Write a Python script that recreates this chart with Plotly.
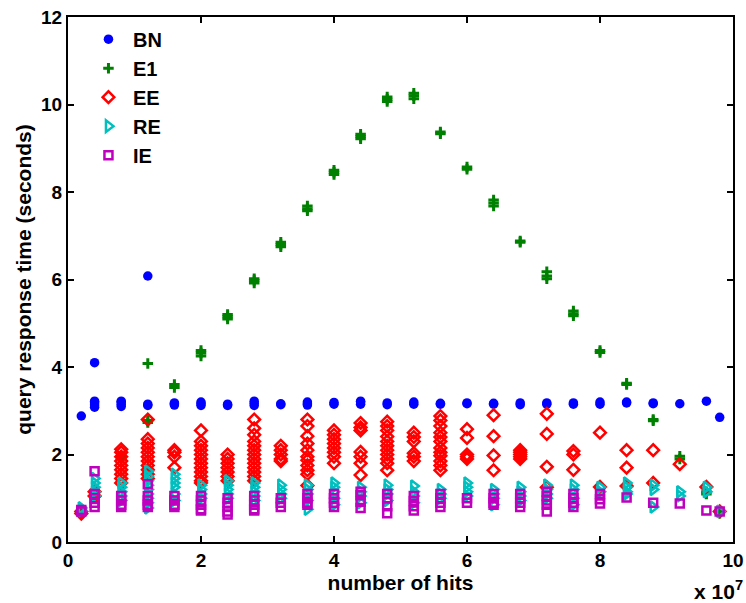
import plotly.graph_objects as go

# number of hits, in units of 1e7
hits = [0.2, 0.4, 0.8, 1.2, 1.6, 2.0, 2.4, 2.8, 3.2, 3.6, 4.0, 4.4, 4.8,
        5.2, 5.6, 6.0, 6.4, 6.8, 7.2, 7.6, 8.0, 8.4, 8.8, 9.2, 9.6, 9.8]

# query response times (seconds), one list per hits value
bn = [[2.88], [4.1, 3.08, 3.13, 3.18, 3.22], [3.1, 3.15, 3.2, 3.22],
      [6.08, 3.12, 3.15], [3.13, 3.16, 3.18], [3.12, 3.16, 3.2], [3.12, 3.15],
      [3.12, 3.17, 3.22], [3.14, 3.16], [3.13, 3.16, 3.2], [3.15, 3.19],
      [3.15, 3.2, 3.22], [3.14, 3.18], [3.15, 3.2], [3.15, 3.17], [3.16, 3.18],
      [3.15, 3.17], [3.14, 3.18], [3.15, 3.18], [3.15, 3.18], [3.15, 3.2],
      [3.18, 3.2], [3.16, 3.18], [3.16], [3.22], [2.85]]

e1 = [[0.65, 0.7], [1.05, 1.1], [1.9, 1.95], [4.08, 2.73, 2.78], [3.53, 3.6],
      [4.25, 4.32, 4.38], [5.1, 5.15, 5.2], [5.92, 5.98, 6.02], [6.75, 6.8, 6.85],
      [7.57, 7.62, 7.68], [8.4, 8.45, 8.5], [9.22, 9.27, 9.32],
      [10.07, 10.12, 10.17], [10.13, 10.2, 10.26], [9.33, 9.37], [8.52, 8.57],
      [7.68, 7.75, 7.82], [6.85, 6.88], [6.02, 6.08, 6.18], [5.17, 5.22, 5.28],
      [4.33, 4.38], [3.6, 3.63], [2.77, 2.8], [1.9, 1.96], [1.1, 1.15], [0.66, 0.7]]

ee = [[0.65, 0.7], [1.05, 1.15],
      [1.35, 1.45, 1.55, 1.65, 1.75, 1.85, 1.95, 2.05, 2.12],
      [2.8, 2.35, 2.25, 2.15, 2.05, 1.95, 1.85, 1.75, 1.65, 1.55, 1.45],
      [2.1, 2.05, 1.95, 1.7],
      [2.55, 2.3, 2.2, 2.1, 2.0, 1.9, 1.8, 1.7, 1.6, 1.5, 1.4, 1.35],
      [1.4, 1.5, 1.6, 1.7, 1.8, 1.9, 2.0],
      [2.8, 2.6, 2.45, 2.3, 2.2, 2.1, 2.0, 1.9, 1.8, 1.7, 1.6, 1.5, 1.4],
      [2.2, 2.1, 2.0, 1.9, 1.85],
      [2.8, 2.65, 2.42, 2.25, 2.1, 1.95, 1.87, 1.75, 1.64, 1.55, 1.29],
      [2.55, 2.45, 2.35, 2.25, 2.15, 2.05, 1.95, 1.8],
      [2.72, 2.62, 2.55, 2.06, 1.95, 1.8, 1.53],
      [2.75, 2.65, 2.55, 2.41, 2.3, 2.2, 2.1, 2.0, 1.9, 1.8, 1.64],
      [2.5, 2.4, 2.3, 2.03, 1.95, 1.85],
      [2.88, 2.78, 2.65, 2.5, 2.4, 2.3, 2.15, 2.05, 1.97, 1.85, 1.75, 1.64],
      [2.58, 2.38, 2.0, 1.95, 1.9],
      [2.9, 2.42, 1.98, 1.64],
      [2.1, 2.05, 2.0, 1.95, 1.9],
      [2.93, 2.47, 1.72, 1.25],
      [2.08, 2.0, 1.65],
      [2.5, 1.26],
      [2.1, 1.7, 1.28],
      [2.1, 1.35],
      [1.78],
      [1.26],
      [0.7]]

re_ = [[0.72, 0.78], [1.45, 1.35, 1.25, 1.15, 1.05], [1.35, 1.25, 1.15, 1.05, 0.95],
       [1.62, 1.5, 1.4, 1.3, 1.2, 1.1, 1.0, 0.9, 0.78],
       [1.55, 1.45, 1.35, 1.25, 1.1, 0.95], [1.3, 1.2, 1.1, 1.0],
       [1.4, 1.3, 1.2, 1.1, 1.0], [1.35, 1.25, 1.15, 1.05, 0.95],
       [1.3, 1.2, 1.1, 1.0], [1.3, 1.2, 1.1, 0.95, 0.75],
       [1.35, 1.25, 1.15, 1.0, 0.85], [1.25, 1.15, 1.05, 0.9],
       [1.3, 1.2, 1.1, 0.95], [1.28, 1.15, 1.05, 0.9], [1.2, 1.1, 1.0],
       [1.35, 1.25, 1.15, 1.05], [1.2, 1.1, 1.0, 0.85],
       [1.25, 1.15, 1.05, 0.95], [1.3, 1.2, 1.1, 1.0], [1.3, 1.2, 1.0, 0.85],
       [1.25, 1.15], [1.35, 1.25, 1.15, 1.1], [1.3, 1.2, 0.8], [1.15, 1.05],
       [1.25, 1.15], [0.7]]

ie = [[0.7, 0.73], [1.62, 1.1, 1.0, 0.9, 0.8], [1.05, 0.95, 0.85, 0.8],
      [1.32, 1.05, 0.95, 0.85, 0.8], [1.05, 0.95, 0.85, 0.8],
      [1.05, 0.95, 0.85, 0.75, 0.72], [1.0, 0.9, 0.8, 0.7, 0.63],
      [1.05, 0.95, 0.85, 0.75, 0.72], [1.0, 0.9, 0.8],
      [1.1, 1.0, 0.9, 0.85], [1.1, 1.0, 0.9, 0.8], [1.15, 1.07, 0.92, 0.78],
      [1.1, 1.0, 0.82, 0.66], [1.05, 0.94, 0.82, 0.72], [1.1, 1.0, 0.9, 0.8],
      [1.0, 0.9], [1.1, 1.0, 0.9, 0.85], [1.1, 1.0, 0.9, 0.8],
      [1.15, 1.05, 0.95, 0.85, 0.7], [1.1, 1.0, 0.9, 0.8], [1.1, 0.98, 0.88],
      [1.02], [0.9], [0.88], [0.72], [0.7]]

x_ticks = [0, 2, 4, 6, 8, 10]
y_ticks = [0, 2, 4, 6, 8, 10, 12]


def flatten(groups):
    xs, ys = [], []
    for h, vals in zip(hits, groups):
        for v in vals:
            xs.append(h)
            ys.append(v)
    return xs, ys


FONT = "Liberation Sans, Arial, Helvetica, sans-serif"

series = [
    ("BN", bn, dict(symbol="circle", size=9.5, color="#0000FF")),
    ("E1", e1, dict(symbol="cross-thin", size=7.5, color="#008000",
                    line=dict(color="#008000", width=3))),
    ("EE", ee, dict(symbol="diamond-open", size=9, color="#FF0000",
                    line=dict(color="#FF0000", width=2.5))),
    ("RE", re_, dict(symbol="triangle-right-open", size=10, color="#00BFBF",
                     line=dict(color="#00BFBF", width=2.5))),
    ("IE", ie, dict(symbol="square-open", size=8, color="#BF00BF",
                    line=dict(color="#BF00BF", width=2.5))),
]

fig = go.Figure()
for name, groups, marker in series:
    xs, ys = flatten(groups)
    fig.add_trace(go.Scatter(x=xs, y=ys, mode="markers", name=name,
                             legendgroup=name, marker=marker))

tick_font = dict(family=FONT, size=19, color="black", weight="bold")
title_font = dict(family=FONT, size=21, color="black", weight="bold")

axis_common = dict(showline=True, linecolor="black", linewidth=2, mirror="ticks",
                   ticks="inside", ticklen=6, tickwidth=2, tickcolor="black",
                   showgrid=False, zeroline=False, automargin=False,
                   tickfont=tick_font)

fig.update_layout(
    width=746, height=603,
    margin=dict(l=68, r=13, t=17, b=61),
    paper_bgcolor="white", plot_bgcolor="white",
    showlegend=True,
    legend=dict(x=0.024, y=0.995, xanchor="left", yanchor="top",
                bgcolor="rgba(0,0,0,0)", traceorder="grouped", tracegroupgap=0,
                itemwidth=39,
                font=dict(family=FONT, size=20, color="black", weight="bold")),
    xaxis=dict(range=[0, 10], tickvals=x_ticks,
               title=dict(text="number of hits", standoff=0, font=title_font),
               **axis_common),
    yaxis=dict(range=[0, 12], tickvals=y_ticks,
               title=dict(text="query response time (seconds)", standoff=4,
                          font=title_font),
               **axis_common),
    annotations=[dict(text="x 10<sup>7</sup>", xref="paper", yref="paper",
                      x=1.018, y=-0.091, xanchor="right", yanchor="middle",
                      showarrow=False, font=title_font)],
)

fig.write_html("out.html")
